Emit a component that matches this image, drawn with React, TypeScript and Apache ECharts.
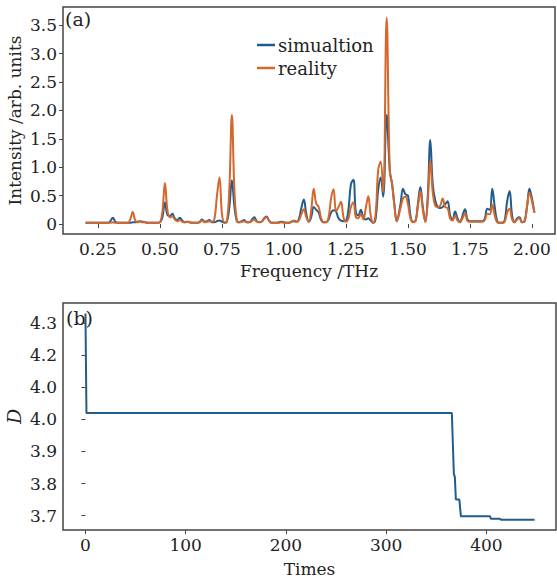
import React, { useEffect, useRef } from "react";
import * as echarts from "echarts";

const freq = [
  0.2, 0.21, 0.22, 0.23, 0.24, 0.25, 0.26, 0.27, 0.28, 0.29,
  0.3, 0.31, 0.32, 0.33, 0.34, 0.35, 0.36, 0.37, 0.38, 0.39,
  0.4, 0.41, 0.42, 0.43, 0.44, 0.45, 0.46, 0.47, 0.48, 0.49,
  0.5, 0.51, 0.52, 0.53, 0.54, 0.55, 0.56, 0.57, 0.58, 0.59,
  0.6, 0.61, 0.62, 0.63, 0.64, 0.65, 0.66, 0.67, 0.68, 0.69,
  0.7, 0.71, 0.72, 0.73, 0.74, 0.75, 0.76, 0.77, 0.78, 0.79,
  0.8, 0.81, 0.82, 0.83, 0.84, 0.85, 0.86, 0.87, 0.88, 0.89,
  0.9, 0.91, 0.92, 0.93, 0.94, 0.95, 0.96, 0.97, 0.98, 0.99,
  1.0, 1.01, 1.02, 1.03, 1.04, 1.05, 1.06, 1.07, 1.08, 1.09,
  1.1, 1.11, 1.12, 1.13, 1.14, 1.15, 1.16, 1.17, 1.18, 1.19,
  1.2, 1.21, 1.22, 1.23, 1.24, 1.25, 1.26, 1.27, 1.28, 1.29,
  1.3, 1.31, 1.32, 1.33, 1.34, 1.35, 1.36, 1.37, 1.38, 1.39,
  1.4, 1.414, 1.427, 1.436, 1.445, 1.455, 1.47, 1.48, 1.49,
  1.5, 1.51, 1.52, 1.53, 1.54, 1.55, 1.56, 1.57, 1.58, 1.59,
  1.6, 1.61, 1.62, 1.63, 1.64, 1.65, 1.66, 1.67, 1.68, 1.69,
  1.7, 1.71, 1.72, 1.73, 1.74, 1.75, 1.76, 1.77, 1.78, 1.79,
  1.8, 1.81, 1.82, 1.83, 1.84, 1.85, 1.86, 1.87, 1.88, 1.89,
  1.9, 1.91, 1.92, 1.93, 1.94, 1.95, 1.96, 1.97, 1.98, 1.99,
  2.0, 2.01,
];

const simulation = [
  0.02, 0.02, 0.02, 0.02, 0.02, 0.02, 0.02, 0.02, 0.02, 0.02,
  0.05, 0.11, 0.04, 0.02, 0.02, 0.02, 0.02, 0.02, 0.02, 0.03,
  0.03, 0.04, 0.05, 0.04, 0.03, 0.02, 0.02, 0.02, 0.02, 0.02,
  0.03, 0.12, 0.38, 0.16, 0.14, 0.18, 0.1, 0.07, 0.11, 0.06,
  0.03, 0.04, 0.03, 0.02, 0.02, 0.02, 0.04, 0.08, 0.04, 0.05,
  0.07, 0.03, 0.03, 0.05, 0.06, 0.04, 0.02, 0.04, 0.3, 0.77,
  0.32, 0.05, 0.03, 0.05, 0.07, 0.03, 0.03, 0.07, 0.12, 0.05,
  0.03, 0.04, 0.1, 0.13, 0.06, 0.02, 0.02, 0.02, 0.03, 0.04,
  0.03, 0.02, 0.02, 0.04, 0.05, 0.04, 0.08, 0.28, 0.43, 0.18,
  0.04, 0.12, 0.3, 0.25, 0.2, 0.07, 0.03, 0.03, 0.08, 0.2,
  0.24, 0.22, 0.1, 0.06, 0.05, 0.06, 0.25, 0.7, 0.78, 0.2,
  0.15, 0.25, 0.12, 0.08, 0.1, 0.06, 0.02, 0.1, 0.6, 0.82,
  0.48, 1.92, 0.93, 0.7, 0.35, 0.05, 0.35, 0.62, 0.52,
  0.5, 0.15, 0.04, 0.05, 0.35, 0.65, 0.3, 0.04, 0.5, 1.48,
  0.7, 0.42, 0.3, 0.28, 0.3, 0.35, 0.4, 0.15, 0.08, 0.22,
  0.1, 0.03, 0.15, 0.26, 0.08, 0.05, 0.05, 0.05, 0.05, 0.05,
  0.05, 0.1, 0.27, 0.25, 0.62, 0.3, 0.05, 0.02, 0.02, 0.06,
  0.4, 0.58, 0.15, 0.03, 0.1, 0.12, 0.03, 0.05, 0.3, 0.62,
  0.45, 0.2,
];

const reality = [
  0.02, 0.02, 0.02, 0.02, 0.02, 0.02, 0.02, 0.02, 0.02, 0.02,
  0.02, 0.03, 0.02, 0.02, 0.02, 0.02, 0.02, 0.02, 0.08, 0.21,
  0.07, 0.03, 0.04, 0.03, 0.03, 0.02, 0.02, 0.02, 0.02, 0.02,
  0.03, 0.22, 0.72, 0.25, 0.12, 0.13, 0.08, 0.05, 0.07, 0.04,
  0.03, 0.04, 0.03, 0.02, 0.02, 0.02, 0.03, 0.06, 0.03, 0.04,
  0.05, 0.04, 0.1, 0.5, 0.82, 0.18, 0.03, 0.05, 0.65, 1.92,
  0.62, 0.06, 0.03, 0.04, 0.05, 0.03, 0.03, 0.05, 0.08, 0.04,
  0.03, 0.04, 0.09, 0.12, 0.06, 0.02, 0.02, 0.02, 0.02, 0.03,
  0.02, 0.02, 0.02, 0.04, 0.06, 0.04, 0.06, 0.17, 0.26, 0.12,
  0.04, 0.25, 0.62, 0.36, 0.3, 0.1, 0.03, 0.03, 0.12, 0.45,
  0.61, 0.22, 0.3, 0.39, 0.12, 0.04, 0.1, 0.3, 0.38, 0.12,
  0.1, 0.18, 0.08, 0.28, 0.49, 0.15, 0.02, 0.2, 0.95, 1.1,
  0.56, 3.63, 0.92, 0.72, 0.35, 0.05, 0.28, 0.45, 0.48,
  0.35, 0.1, 0.03, 0.05, 0.3, 0.58, 0.25, 0.04, 0.4, 1.12,
  0.55, 0.32, 0.3, 0.32, 0.45, 0.3, 0.28, 0.1, 0.06, 0.15,
  0.06, 0.03, 0.1, 0.19, 0.05, 0.04, 0.04, 0.04, 0.04, 0.04,
  0.04, 0.07, 0.18, 0.17, 0.34, 0.15, 0.03, 0.02, 0.02, 0.04,
  0.2, 0.27, 0.08, 0.03, 0.08, 0.1, 0.03, 0.04, 0.3, 0.55,
  0.4, 0.2,
];

const freqTicks = [0.25, 0.5, 0.75, 1.0, 1.25, 1.5, 1.75, 2.0];
const freqTickLabels = ["0.25", "0.50", "0.75", "1.00", "1.25", "1.50", "1.75", "2.00"];
const intensityTicks = [0, 0.5, 1.0, 1.5, 2.0, 2.5, 3.0, 3.5];
const intensityTickLabels = ["0", "0.5", "1.0", "1.5", "2.0", "2.5", "3.0", "3.5"];

const times = [0, 1, 365.5, 367.5, 368.5, 369.5, 373, 374.5, 403.5, 404.5, 413.5, 414.5, 448];
const dValues = [4.33, 4.02, 4.02, 3.83, 3.82, 3.75, 3.75, 3.698, 3.698, 3.69, 3.69, 3.687, 3.687];

const timeTicks = [0, 100, 200, 300, 400];
const timeTickLabels = ["0", "100", "200", "300", "400"];
const dTicks = [3.7, 3.8, 3.9, 4.0, 4.1, 4.2, 4.3];
const dTickLabels = ["3.7", "3.8", "3.9", "4.0", "4.0", "4.2", "4.3"];

const BLUE = "#215c8e";
const ORANGE = "#d4672c";
const FONT = "DejaVu Serif";
const TXT = "#222";
const FRAME = "#444";

function labelFor(ticks: number[], labels: string[]) {
  return (v: number) => {
    let best = 0;
    for (let i = 0; i < ticks.length; i++) {
      if (Math.abs(ticks[i] - v) < Math.abs(ticks[best] - v)) best = i;
    }
    return labels[best];
  };
}

export default function App() {
  const ref = useRef<HTMLDivElement>(null);
  useEffect(() => {
    if (!ref.current) return;
    const chart = echarts.init(ref.current, null, { renderer: "svg" });
    const axisCommon = {
      axisLine: { show: false },
      splitLine: { show: false },
      axisTick: { show: true, inside: false, length: 4, lineStyle: { color: FRAME, width: 1 } },
      axisLabel: { color: TXT, fontFamily: FONT, fontSize: 17, margin: 6 },
      nameTextStyle: { color: TXT, fontFamily: FONT, fontSize: 17 },
      nameMoveOverlap: false,
    };
    chart.setOption({
      animation: false,
      backgroundColor: "#fff",
      grid: [
        { left: 63, top: 7, width: 492, height: 227, show: true, borderColor: FRAME, borderWidth: 1.5, backgroundColor: "transparent", containLabel: false, outerBoundsMode: "none" },
        { left: 63, top: 303, width: 493, height: 227, show: true, borderColor: FRAME, borderWidth: 1.5, backgroundColor: "transparent", containLabel: false, outerBoundsMode: "none" },
      ],
      legend: {
        data: ["simualtion", "reality"],
        orient: "vertical",
        left: 252,
        top: 31,
        icon: "rect",
        itemWidth: 18,
        itemHeight: 2.5,
        itemGap: 5,
        textStyle: { color: TXT, fontFamily: FONT, fontSize: 18, padding: [0, 0, 0, -2] },
      },
      xAxis: [
        {
          ...axisCommon,
          gridIndex: 0,
          type: "value",
          min: 0.109,
          max: 2.093,
          name: "Frequency /THz",
          nameLocation: "middle",
          nameGap: 28,
          axisTick: { ...axisCommon.axisTick, customValues: freqTicks },
          axisLabel: { ...axisCommon.axisLabel, customValues: freqTicks, formatter: labelFor(freqTicks, freqTickLabels) },
        },
        {
          ...axisCommon,
          gridIndex: 1,
          type: "value",
          min: -22.4,
          max: 469.4,
          name: "Times",
          nameLocation: "middle",
          nameGap: 30,
          axisTick: { ...axisCommon.axisTick, customValues: timeTicks },
          axisLabel: { ...axisCommon.axisLabel, customValues: timeTicks, formatter: labelFor(timeTicks, timeTickLabels) },
        },
      ],
      yAxis: [
        {
          ...axisCommon,
          gridIndex: 0,
          type: "value",
          min: -0.176,
          max: 3.82,
          name: "Intensity /arb. units",
          nameLocation: "middle",
          nameGap: 40,
          axisTick: { ...axisCommon.axisTick, customValues: intensityTicks },
          axisLabel: { ...axisCommon.axisLabel, customValues: intensityTicks, formatter: labelFor(intensityTicks, intensityTickLabels) },
        },
        {
          ...axisCommon,
          gridIndex: 1,
          type: "value",
          min: 3.655,
          max: 4.363,
          name: "D",
          nameLocation: "middle",
          nameGap: 40,
          nameTextStyle: { ...axisCommon.nameTextStyle, fontStyle: "italic", fontSize: 19 },
          axisTick: { ...axisCommon.axisTick, customValues: dTicks },
          axisLabel: { ...axisCommon.axisLabel, customValues: dTicks, formatter: labelFor(dTicks, dTickLabels) },
        },
      ],
      graphic: [
        { type: "text", left: 65, top: 9, style: { text: "(a)", fill: TXT, font: `19px "${FONT}"` } },
        { type: "text", left: 66, top: 308, style: { text: "(b)", fill: TXT, font: `19px "${FONT}"` } },
      ],
      series: [
        {
          name: "simualtion",
          type: "line",
          xAxisIndex: 0,
          yAxisIndex: 0,
          data: freq.map((f, i) => [f, simulation[i]]),
          showSymbol: false,
          smooth: 0.4,
          lineStyle: { color: BLUE, width: 2 },
          itemStyle: { color: BLUE },
        },
        {
          name: "reality",
          type: "line",
          xAxisIndex: 0,
          yAxisIndex: 0,
          data: freq.map((f, i) => [f, reality[i]]),
          showSymbol: false,
          smooth: 0.4,
          lineStyle: { color: ORANGE, width: 2 },
          itemStyle: { color: ORANGE },
        },
        {
          name: "D",
          type: "line",
          xAxisIndex: 1,
          yAxisIndex: 1,
          data: times.map((t, i) => [t, dValues[i]]),
          showSymbol: false,
          lineStyle: { color: BLUE, width: 2 },
          itemStyle: { color: BLUE },
        },
      ],
    });
    return () => chart.dispose();
  }, []);
  return <div ref={ref} style={{ position: "fixed", left: 0, top: 0, width: 557, height: 581 }} />;
}
